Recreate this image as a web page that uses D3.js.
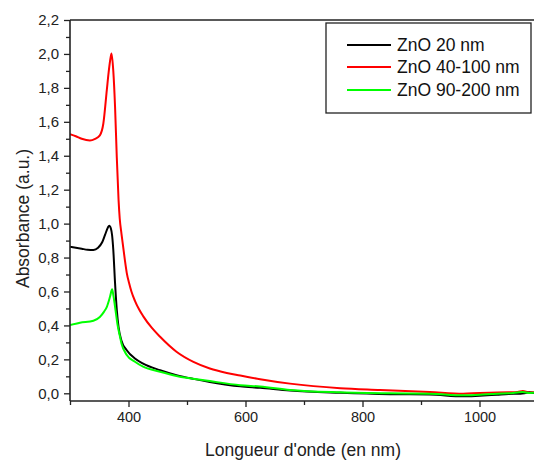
<!DOCTYPE html>
<html><head><meta charset="utf-8">
<script src="https://cdn.jsdelivr.net/npm/d3@7"></script>
<style>
html,body{margin:0;padding:0;background:#fff;}
svg{display:block;font-family:"Liberation Sans",Arial,sans-serif;}
</style></head>
<body>
<svg id="chart" width="534" height="461"></svg>
<script>
// ---- data ----
const seriesNames = ["ZnO 20 nm", "ZnO 40-100 nm", "ZnO 90-200 nm"];
const seriesColors = ["#000000", "#ff0000", "#00ff00"];

const blackWl = [300,310,320,330,340,348,355,360,365,367,370,372,374,377,380,383,388,397,411,425,454,482,511,539,591,625,676,762,847,915,972,1000,1030,1050,1070,1085,1100];
const blackA  = [0.864,0.858,0.852,0.846,0.845,0.858,0.89,0.935,0.978,0.988,0.97,0.93,0.846,0.65,0.49,0.39,0.31,0.254,0.205,0.175,0.136,0.107,0.085,0.067,0.041,0.032,0.016,0.003,-0.005,-0.007,-0.018,-0.014,-0.008,-0.004,-0.002,0.004,0.0];

const redWl = [300,310,320,334,343,351,357,363,366,369,371,374,377,380,383,385,388,391,394,397,401,405,411,418,425,440,454,482,511,539,568,591,625,676,762,830,915,972,1000,1030,1050,1065,1074,1085,1100];
const redA  = [1.527,1.515,1.50,1.49,1.50,1.52,1.59,1.79,1.89,1.97,2.003,1.90,1.69,1.39,1.14,1.03,0.94,0.86,0.78,0.71,0.65,0.60,0.545,0.495,0.455,0.385,0.333,0.245,0.185,0.146,0.12,0.105,0.083,0.057,0.030,0.020,0.008,-0.002,0.002,0.004,0.006,0.008,0.014,0.006,0.008];

const greenWl = [300,317,340,351,358,363,368.5,372,374,377,381,385.5,388,397,411,425,454,482,539,591,625,676,762,847,915,972,1000,1030,1050,1074,1085,1100];
const greenA  = [0.402,0.416,0.428,0.45,0.48,0.51,0.57,0.613,0.58,0.51,0.41,0.333,0.294,0.226,0.186,0.157,0.127,0.102,0.072,0.048,0.040,0.020,0.006,0.0,-0.002,-0.012,-0.008,-0.002,0.0,0.008,0.002,0.004];

const xTicksMajor = [400,600,800,1000];
const xTicksMinor = [300,500,700,900,1100];
const yTicksMajor = [0,0.2,0.4,0.6,0.8,1.0,1.2,1.4,1.6,1.8,2.0,2.2];
const yTicksMinor = [0.1,0.3,0.5,0.7,0.9,1.1,1.3,1.5,1.7,1.9,2.1];

const xTitle = "Longueur d'onde (en nm)";
const yTitle = "Absorbance (a.u.)";

// ---- layout ----
const L = 70, T = 20, B = 401, Rr = 538;
const svg = d3.select("#chart");
const x = d3.scaleLinear().domain([300,1100]).range([L, Rr]);
const y0px = 393.3, y22px = 20;
const y = d3.scaleLinear().domain([0,2.2]).range([y0px, y22px]);

const fmt = d => d3.format(".1f")(d).replace(".", ",");

svg.append("defs").append("clipPath").attr("id","clip")
  .append("rect").attr("x",L).attr("y",T).attr("width",Rr-L).attr("height",B-T);

// curves
const line = d3.line().x(d=>x(d[0])).y(d=>y(d[1])).curve(d3.curveMonotoneX);
const data = [
  d3.zip(blackWl, blackA),
  d3.zip(redWl, redA),
  d3.zip(greenWl, greenA)
];
const g = svg.append("g").attr("clip-path","url(#clip)");
[1,0,2].forEach(i=>{
  g.append("path").datum(data[i]).attr("d",line)
   .attr("fill","none").attr("stroke",seriesColors[i]).attr("stroke-width",2)
   .attr("stroke-linejoin","round");
});

// axes
const axisColor = "#222";
const xAxis = d3.axisBottom(x).tickValues(xTicksMajor).tickSize(6).tickSizeOuter(0).tickPadding(5).tickFormat(d3.format("d"));
const gx = svg.append("g").attr("transform",`translate(0,${B})`).call(xAxis);
gx.select(".domain").remove();
gx.selectAll(".tick line").attr("stroke",axisColor).attr("stroke-width",1.3);
gx.selectAll(".tick text").attr("font-size",14.5).attr("fill","#222")
  .attr("font-family","'Liberation Sans',Arial,sans-serif").attr("dy","0.71em");
const xMinor = d3.axisBottom(x).tickValues(xTicksMinor).tickSize(4).tickSizeOuter(0).tickFormat("");
const gxm = svg.append("g").attr("transform",`translate(0,${B})`).call(xMinor);
gxm.select(".domain").remove();
gxm.selectAll(".tick line").attr("stroke",axisColor).attr("stroke-width",1.3);

const yAxis = d3.axisLeft(y).tickValues(yTicksMajor).tickSize(6).tickSizeOuter(0).tickPadding(5).tickFormat(fmt);
const gy = svg.append("g").attr("transform",`translate(${L},0)`).call(yAxis);
gy.select(".domain").remove();
gy.selectAll(".tick line").attr("stroke",axisColor).attr("stroke-width",1.3);
gy.selectAll(".tick text").attr("font-size",15).attr("fill","#222")
  .attr("font-family","'Liberation Sans',Arial,sans-serif");
const yMinor = d3.axisLeft(y).tickValues(yTicksMinor).tickSize(4).tickSizeOuter(0).tickFormat("");
const gym = svg.append("g").attr("transform",`translate(${L},0)`).call(yMinor);
gym.select(".domain").remove();
gym.selectAll(".tick line").attr("stroke",axisColor).attr("stroke-width",1.3);

// frame lines
svg.append("line").attr("x1",L).attr("x2",L).attr("y1",T).attr("y2",B).attr("stroke",axisColor).attr("stroke-width",1.6);
svg.append("line").attr("x1",L).attr("x2",534).attr("y1",B).attr("y2",B).attr("stroke",axisColor).attr("stroke-width",1.6);
svg.append("line").attr("x1",L).attr("x2",534).attr("y1",T).attr("y2",T).attr("stroke",axisColor).attr("stroke-width",1.6);

// titles
svg.append("text").attr("x",(L+Rr)/2 - 1).attr("y",456).attr("text-anchor","middle")
  .attr("font-size",17.5).attr("fill","#222").text(xTitle);
svg.append("text").attr("transform",`translate(29,${(T+B)/2+8}) rotate(-90)`)
  .attr("text-anchor","middle").attr("font-size",17.5).attr("fill","#222").text(yTitle);

// legend
const lg = svg.append("g");
lg.append("rect").attr("x",326).attr("y",23).attr("width",205).attr("height",90)
  .attr("fill","#fff").attr("stroke","#222").attr("stroke-width",1.3);
const rowsY = [45, 67, 90];
seriesNames.forEach((n,i)=>{
  lg.append("line").attr("x1",347).attr("x2",391).attr("y1",rowsY[i]).attr("y2",rowsY[i])
    .attr("stroke",seriesColors[i]).attr("stroke-width",2);
  lg.append("text").attr("x",397).attr("y",rowsY[i]+6).attr("font-size",17.5).attr("fill","#111").text(n);
});
</script>
</body></html>
